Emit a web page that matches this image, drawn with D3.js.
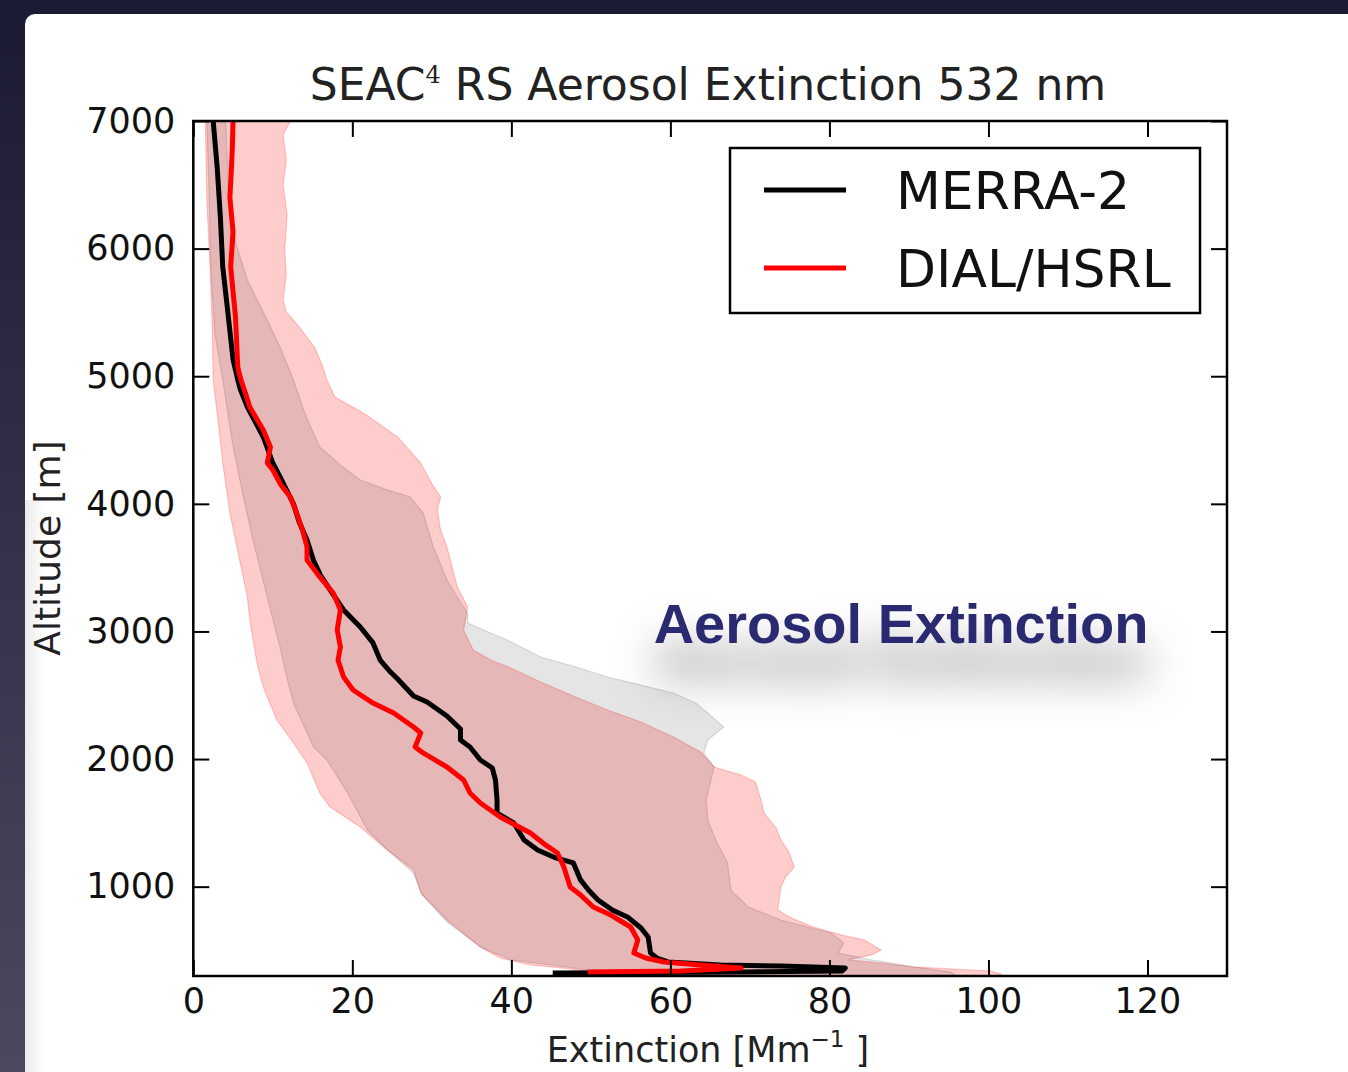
<!DOCTYPE html>
<html>
<head>
<meta charset="utf-8">
<script src="https://cdn.jsdelivr.net/npm/d3@7"></script>
<style>
  html, body { margin: 0; padding: 0; background: #1c1b35; }
  svg { display: block; }
</style>
</head>
<body>
<svg id="chart" width="1348" height="1072"></svg>
<script>
// Axis ticks
const xTicks = [0, 20, 40, 60, 80, 100, 120];
const yTicks = [1000, 2000, 3000, 4000, 5000, 6000, 7000];

// Profiles: [altitude (m), extinction (Mm^-1)]
const merraMean = [[7000,2.5],[6640,3.0],[6250,3.4],[5860,3.7],[5470,4.4],[5130,5.0],[4970,5.6],[4900,5.9],[4759,6.8],[4524,8.8],[4320,10.0],[4200,11.0],[4000,12.6],[3860,13.3],[3717,14.3],[3560,15.1],[3440,16.0],[3325,17.2],[3168,18.9],[3035,21.0],[2910,22.6],[2776,23.5],[2682,24.8],[2627,25.7],[2494,27.7],[2447,29.4],[2337,31.9],[2236,33.6],[2150,33.6],[2095,34.8],[1993,36.1],[1930,37.6],[1836,38.0],[1679,38.2],[1577,38.2],[1499,40.3],[1366,41.6],[1288,43.3],[1225,45.6],[1186,47.8],[1053,48.7],[974,49.7],[896,50.9],[817,52.7],[763,54.6],[676,56.3],[606,57.2],[481,57.5],[441,58.3],[410,59.7],[386,66.3],[378,73.9],[363,82.0],[339,81.6],[331,68.9],[323,45.2]];

const dialMean = [[7000,5.0],[6773,4.9],[6640,4.8],[6400,4.6],[6130,5.0],[5860,4.7],[5600,5.1],[5470,5.3],[5070,5.6],[4970,6.0],[4860,6.6],[4759,7.1],[4579,8.8],[4446,9.7],[4320,9.3],[4265,10.0],[4150,11.0],[4054,12.2],[3928,13.0],[3800,13.7],[3662,14.3],[3560,14.3],[3427,15.9],[3301,17.6],[3168,18.5],[3012,18.1],[2878,18.5],[2776,18.2],[2643,18.9],[2541,20.1],[2439,22.6],[2361,25.2],[2251,27.7],[2204,28.6],[2095,27.9],[2048,28.9],[1938,31.9],[1836,34.0],[1734,34.8],[1656,36.1],[1546,38.6],[1421,42.4],[1327,44.3],[1264,45.8],[1154,46.6],[998,47.4],[935,48.7],[841,50.3],[778,52.5],[684,55.0],[582,55.9],[480,55.4],[441,56.9],[410,59.2],[386,63.8],[363,68.9],[339,61.3],[331,49.6]];

// Spread of each profile (lower and upper envelopes)
const merraMin = [[7000,1.7],[6381,2.0],[5856,2.2],[5339,2.7],[4970,3.7],[4446,5.0],[4054,6.3],[3717,7.5],[3270,9.3],[2878,10.9],[2627,11.8],[2439,12.6],[2095,15.1],[1993,16.8],[1734,19.4],[1444,21.9],[1288,24.4],[1107,27.7],[935,28.8],[723,31.9],[520,36.3],[426,40.0],[355,48.7],[323,56.3],[300,58.0]];

const merraMax = [[7000,4.1],[6498,4.4],[6146,4.9],[6013,5.5],[5754,6.8],[5441,9.3],[5229,10.9],[4970,12.6],[4696,14.1],[4446,15.9],[4304,18.5],[4187,21.0],[4109,24.4],[4054,27.3],[3928,28.9],[3662,30.2],[3403,31.9],[3270,33.2],[3145,34.5],[3066,34.5],[2988,37.4],[2933,39.5],[2800,43.7],[2722,48.1],[2643,52.1],[2580,56.3],[2518,60.4],[2439,63.2],[2361,64.7],[2251,66.7],[2150,64.7],[2048,64.2],[1938,65.5],[1836,65.1],[1679,64.5],[1523,64.7],[1366,65.7],[1186,67.2],[974,67.6],[841,69.8],[739,73.9],[637,80.2],[559,81.8],[480,81.1],[426,85.3],[371,90.6],[331,95.3],[300,96.0]];

const dialMin = [[7000,1.5],[6381,1.7],[5856,2.1],[5339,2.4],[4970,2.5],[4657,3.1],[4320,3.7],[3928,4.6],[3537,5.9],[3270,6.8],[3090,7.1],[2753,8.0],[2565,8.8],[2306,10.5],[2126,12.6],[1969,14.3],[1734,15.9],[1624,17.2],[1468,21.0],[1288,24.4],[1131,27.7],[951,28.6],[739,31.9],[527,36.1],[441,38.6],[386,42.4],[347,48.7],[316,56.3],[300,58.0]];

const dialMax = [[7000,12.2],[6890,11.3],[6694,11.7],[6498,11.3],[6263,11.8],[5989,11.5],[5793,11.7],[5597,11.3],[5503,11.7],[5425,12.8],[5323,14.1],[5221,15.3],[5088,16.2],[4970,16.8],[4837,17.8],[4712,21.4],[4524,25.7],[4320,28.6],[4148,30.1],[4054,31.1],[3952,30.7],[3795,31.1],[3662,31.9],[3348,33.2],[3192,34.5],[3012,34.0],[2855,35.2],[2776,37.4],[2714,39.9],[2604,43.7],[2486,48.1],[2384,52.1],[2290,56.3],[2173,60.4],[2056,63.8],[1938,65.5],[1875,68.9],[1820,70.7],[1679,71.4],[1577,71.8],[1460,73.3],[1366,73.9],[1272,74.9],[1154,75.6],[1076,74.5],[998,73.9],[817,73.5],[755,75.2],[684,78.0],[622,81.5],[582,84.4],[504,86.5],[465,85.3],[426,82.3],[402,86.5],[371,90.6],[339,100.3],[316,101.6],[300,101.6]];

const seriesNames = ["MERRA-2", "DIAL/HSRL"];
const seriesColors = ["#000000", "#ff0000"];

const W = 1348, H = 1072;
const plot = { left: 193.3, right: 1227, top: 121, bottom: 976 };
const FONT = "'DejaVu Sans', sans-serif";

const svg = d3.select("#chart");
const defs = svg.append("defs");

// page backdrop
const side = defs.append("linearGradient").attr("id", "sideGrad")
  .attr("x1", 0).attr("y1", 0).attr("x2", 0).attr("y2", 1);
side.append("stop").attr("offset", 0).attr("stop-color", "#1b1a33");
side.append("stop").attr("offset", 1).attr("stop-color", "#4a4960");
svg.append("rect").attr("width", W).attr("height", H).attr("fill", "url(#sideGrad)");
svg.append("rect").attr("x", 0).attr("y", 0).attr("width", W).attr("height", 14).attr("fill", "#1c1b35");

const edge = defs.append("linearGradient").attr("id", "edgeGrad")
  .attr("x1", 0).attr("y1", 0).attr("x2", 1).attr("y2", 0);
edge.append("stop").attr("offset", 0).attr("stop-color", "#e6e6e8");
edge.append("stop").attr("offset", 1).attr("stop-color", "#ffffff");
svg.append("rect").attr("x", 25).attr("y", 14).attr("width", W).attr("height", H)
  .attr("rx", 10).attr("fill", "#ffffff");
svg.append("rect").attr("x", 25).attr("y", 500).attr("width", 20).attr("height", H - 500)
  .attr("fill", "url(#edgeGrad)").attr("opacity", 0.8);

// scales
const x = d3.scaleLinear().domain([0, 130]).range([plot.left, plot.right]);
const y = d3.scaleLinear().domain([300, 7000]).range([plot.bottom, plot.top]);

defs.append("clipPath").attr("id", "plotClip").append("rect")
  .attr("x", plot.left).attr("y", plot.top)
  .attr("width", plot.right - plot.left).attr("height", plot.bottom - plot.top);

const line = d3.line().x(d => x(d[1])).y(d => y(d[0]));
const band = (lo, hi) => line(lo.concat(hi.slice().reverse())) + "Z";

const g = svg.append("g").attr("clip-path", "url(#plotClip)");

// shaded spreads
g.append("path").attr("d", band(dialMin, dialMax))
  .attr("fill", "rgba(255,0,0,0.2)").attr("stroke", "rgba(255,0,0,0.2)").attr("stroke-width", 1.2);
g.append("path").attr("d", band(merraMin, merraMax))
  .attr("fill", "rgba(0,0,0,0.1)").attr("stroke", "rgba(0,0,0,0.12)").attr("stroke-width", 1.2);

// mean profiles
[merraMean, dialMean].forEach((s, i) => {
  g.append("path").attr("d", line(s))
    .attr("fill", "none").attr("stroke", seriesColors[i])
    .attr("stroke-width", 5).attr("stroke-linejoin", "round").attr("stroke-linecap", "butt");
});

// axes (inward ticks on all four sides)
const tickStyle = sel => {
  sel.select(".domain").remove();
  sel.selectAll(".tick line").attr("stroke", "#000").attr("stroke-width", 2);
  sel.selectAll(".tick text").attr("fill", "#111").style("font-family", FONT).style("font-size", "35px");
};
svg.append("g").attr("transform", `translate(0,${plot.bottom})`)
  .call(d3.axisBottom(x).tickValues(xTicks).tickFormat(d3.format("d")).tickSizeInner(-16).tickSizeOuter(0).tickPadding(12))
  .call(tickStyle);
svg.append("g").attr("transform", `translate(0,${plot.top})`)
  .call(d3.axisTop(x).tickValues(xTicks).tickFormat("").tickSizeInner(-16).tickSizeOuter(0))
  .call(tickStyle);
svg.append("g").attr("transform", `translate(${plot.left},0)`)
  .call(d3.axisLeft(y).tickValues(yTicks).tickFormat(d3.format("d")).tickSizeInner(-16).tickSizeOuter(0).tickPadding(18))
  .call(tickStyle);
svg.append("g").attr("transform", `translate(${plot.right},0)`)
  .call(d3.axisRight(y).tickValues(yTicks).tickFormat("").tickSizeInner(-16).tickSizeOuter(0))
  .call(tickStyle);

svg.append("rect").attr("x", plot.left).attr("y", plot.top)
  .attr("width", plot.right - plot.left).attr("height", plot.bottom - plot.top)
  .attr("fill", "none").attr("stroke", "#000").attr("stroke-width", 2.5);

// title
const title = svg.append("text").attr("x", 708).attr("y", 100).attr("text-anchor", "middle")
  .style("font-family", FONT).style("font-size", "44px").attr("fill", "#222");
title.append("tspan").text("SEAC");
title.append("tspan").attr("dy", -17).style("font-size", "24px").style("font-family", "'DejaVu Serif', serif").text("4");
title.append("tspan").attr("dy", 17).text(" RS Aerosol Extinction 532 nm");

// axis titles
const xl = svg.append("text").attr("x", 708).attr("y", 1062).attr("text-anchor", "middle")
  .style("font-family", FONT).style("font-size", "35px").attr("fill", "#222");
xl.append("tspan").text("Extinction [Mm");
xl.append("tspan").attr("dy", -15).style("font-size", "23px").text("\u22121");
xl.append("tspan").attr("dy", 15).text(" ]");

svg.append("text").attr("transform", "translate(60,548) rotate(-90)").attr("text-anchor", "middle")
  .style("font-family", FONT).style("font-size", "36px").attr("fill", "#222")
  .text("Altitude [m]");

// legend
const lg = svg.append("g");
lg.append("rect").attr("x", 730).attr("y", 148).attr("width", 470).attr("height", 165)
  .attr("fill", "#fff").attr("stroke", "#000").attr("stroke-width", 2.5);
seriesNames.forEach((name, i) => {
  const yy = 190 + i * 78;
  lg.append("line").attr("x1", 764).attr("x2", 846).attr("y1", yy).attr("y2", yy)
    .attr("stroke", seriesColors[i]).attr("stroke-width", 5);
  lg.append("text").attr("x", 896).attr("y", yy + 19)
    .style("font-family", FONT).style("font-size", "52px").attr("fill", "#111").text(name);
});

// overlaid caption with soft drop shadow
const f = defs.append("filter").attr("id", "softShadow")
  .attr("x", "-25%").attr("y", "-80%").attr("width", "150%").attr("height", "320%");
f.append("feGaussianBlur").attr("in", "SourceAlpha").attr("stdDeviation", 22).attr("result", "blur");
f.append("feOffset").attr("in", "blur").attr("dy", 36).attr("result", "off");
f.append("feFlood").attr("flood-color", "#000").attr("flood-opacity", 0.55);
f.append("feComposite").attr("in2", "off").attr("operator", "in").attr("result", "shadow");
const fm = f.append("feMerge");
fm.append("feMergeNode").attr("in", "shadow");
fm.append("feMergeNode").attr("in", "SourceGraphic");

svg.append("text").attr("x", 901).attr("y", 643).attr("text-anchor", "middle")
  .style("font-family", "'Liberation Sans', Arial, sans-serif").style("font-weight", "bold")
  .style("font-size", "56px").attr("fill", "#2c2a70").attr("filter", "url(#softShadow)")
  .text("Aerosol Extinction");
</script>
</body>
</html>
